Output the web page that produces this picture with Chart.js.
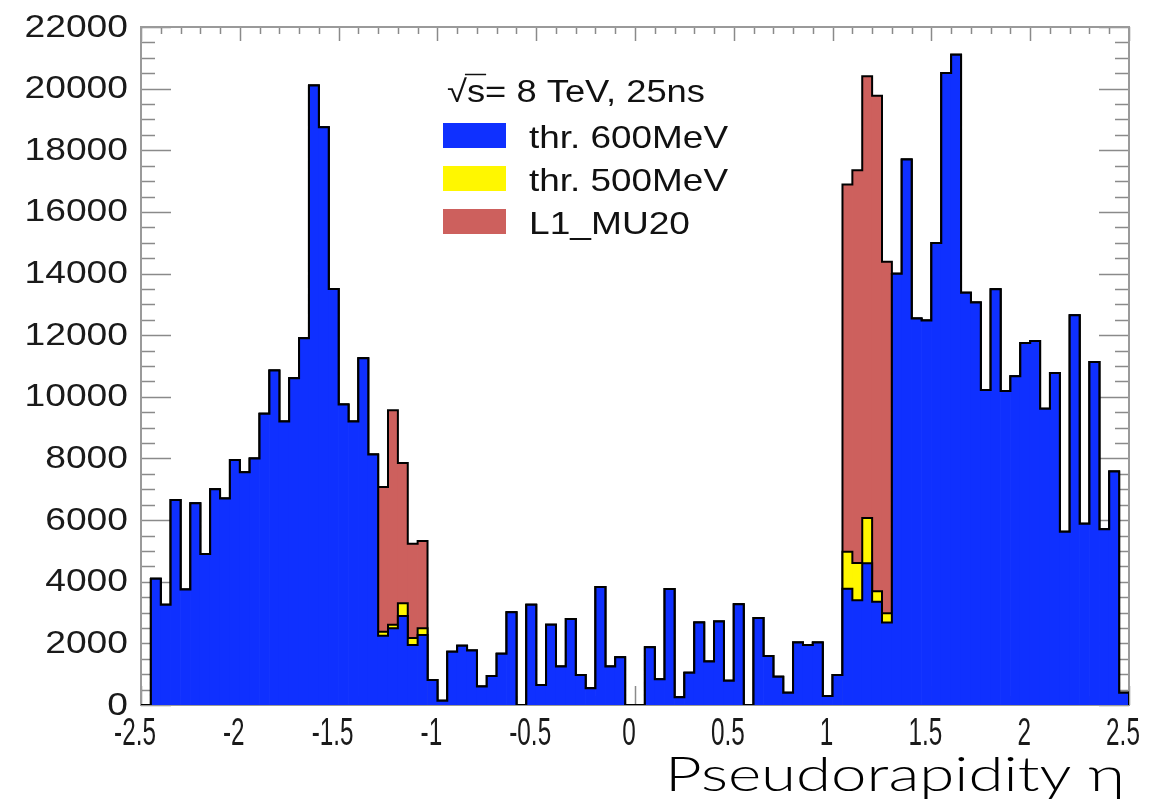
<!DOCTYPE html>
<html>
<head>
<meta charset="utf-8">
<script src="https://cdn.jsdelivr.net/npm/chart.js@4.4.1/dist/chart.umd.min.js"></script>
<style>
html,body{margin:0;padding:0;background:#ffffff;}
#wrap{width:1157px;height:811px;position:relative;}
</style>
</head>
<body>
<div id="wrap"><canvas id="c" width="1157" height="811"></canvas></div>
<script>
// ---- Histogram binning (eta axis) ----
const etaLow = -2.5;
const etaHigh = 2.5;

// ---- thr. 600MeV : counts per bin (100 bins of 0.05 in eta) ----
const thr600 = [
  0, 4100, 3250, 6650, 3750, 6550, 4900, 7000, 6700, 7950,
  7550, 8000, 9450, 10850, 9200, 10600, 11900, 20100, 18750, 13500,
  9750, 9200, 11250, 8125, 2250, 2490, 2890, 1950, 2275, 810,
  140, 1730, 1920, 1770, 600, 940, 1660, 3010, 0, 3250,
  650, 2600, 1250, 2790, 975, 540, 3830, 1250, 1550, 0,
  0, 1875, 835, 3760, 250, 1050, 2675, 1410, 2710, 790,
  3270, 0, 2820, 1590, 920, 400, 2025, 1950, 2025, 290,
  975, 3770, 3400, 4600, 3350, 2680, 13990, 17700, 12540, 12480,
  14990, 20510, 21100, 13380, 13060, 10220, 13490, 10190, 10670, 11750,
  11810, 9610, 10770, 5620, 12650, 5880, 11130, 5700, 7580, 400
];

// ---- bins where thr. 500MeV and L1_MU20 differ from thr. 600MeV ----
const transitionBins = [24, 25, 26, 27, 28, 71, 72, 73, 74, 75];
const thr500Vals = [2380, 2600, 3300, 2170, 2490, 4970, 4610, 6070, 3690, 2980];
const l1mu20Vals = [7075, 9565, 7855, 5230, 5320, 16890, 17350, 20400, 19770, 14380];

// ---- axis ticks ----
const yTickStep = 2000;
const yMax = 22000;
const xTickStep = 0.5;

const legendTitle = '\u221As= 8 TeV, 25ns';
const seriesLabels = ['thr. 600MeV', 'thr. 500MeV', 'L1_MU20'];
const seriesColors = ['#0f30ff', '#fff700', '#cd605d'];
const xTitle = 'Pseudorapidity \u03B7';

// ---- build datasets from the arrays ----
const nBins = thr600.length;
const binW = (etaHigh - etaLow) / nBins;

function fullSeries(vals) {
  const arr = thr600.slice();
  transitionBins.forEach((b, k) => { arr[b] = vals[k]; });
  return arr;
}
const thr500 = fullSeries(thr500Vals);
const l1mu20 = fullSeries(l1mu20Vals);

function barPoints(arr, onlyBins) {
  const pts = [];
  arr.forEach((v, i) => {
    if (onlyBins && onlyBins.indexOf(i) < 0) return;
    pts.push({x: etaLow + (i + 0.5) * binW, y: v});
  });
  return pts;
}
function outlinePoints(arr) {
  const pts = [];
  arr.forEach((v, i) => {
    pts.push({x: etaLow + i * binW, y: v});
    pts.push({x: etaLow + (i + 1) * binW, y: v});
  });
  pts.push({x: etaHigh, y: 0});
  return pts;
}

const barCommon = {type: 'bar', grouped: false, barPercentage: 1, categoryPercentage: 1, borderWidth: 0};
const lineCommon = {type: 'line', borderColor: '#000000', borderWidth: 2, pointRadius: 0, fill: false, tension: 0, borderJoinStyle: 'miter'};

const datasets = [
  Object.assign({}, lineCommon, {label: 'outline600', data: outlinePoints(thr600), order: 1}),
  Object.assign({}, barCommon, {label: seriesLabels[0], data: barPoints(thr600), backgroundColor: seriesColors[0], order: 2}),
  Object.assign({}, lineCommon, {label: 'outline500', data: outlinePoints(thr500), order: 3}),
  Object.assign({}, barCommon, {label: seriesLabels[1], data: barPoints(thr500, transitionBins), backgroundColor: seriesColors[1], order: 4}),
  Object.assign({}, lineCommon, {label: 'outlineMU20', data: outlinePoints(l1mu20), order: 5}),
  Object.assign({}, barCommon, {label: seriesLabels[2], data: barPoints(l1mu20, transitionBins), backgroundColor: seriesColors[2], order: 6})
];

// ---- helper: horizontally stretched text ----
function stretchedText(ctx, text, x, y, font, targetWidth, fixedScale) {
  ctx.save();
  ctx.font = font;
  const w = ctx.measureText(text).width;
  const sx = fixedScale ? fixedScale : (targetWidth ? targetWidth / w : 1);
  ctx.translate(x, y);
  ctx.scale(sx, 1);
  ctx.fillText(text, 0, 0);
  ctx.restore();
  return sx;
}
function fmt(v) { return String(Math.round(v * 100) / 100); }

// ---- frame with inward ticks (drawn under the histograms, as ROOT does) ----
const frameTicks = {
  id: 'frameTicks',
  beforeDatasetsDraw(chart) {
    const {ctx, chartArea: {left, right, top, bottom}, scales: {x, y}} = chart;
    ctx.save();
    ctx.strokeStyle = '#8a8a8a';
    ctx.lineWidth = 1.5;
    ctx.beginPath();
    for (let v = 0; v <= yMax; v += yTickStep / 4) {
      const py = Math.round(y.getPixelForValue(v)) + 0.5;
      const major = v % yTickStep === 0;
      const L = major ? 30 : 14;
      ctx.moveTo(left, py); ctx.lineTo(left + L, py);
      ctx.moveTo(right, py); ctx.lineTo(right - L, py);
    }
    for (let k = -25; k <= 25; k++) {
      const px = Math.round(x.getPixelForValue(k / 10)) + 0.5;
      const major = k % 5 === 0;
      ctx.moveTo(px, top); ctx.lineTo(px, top + (major ? 14 : 7));
      ctx.moveTo(px, bottom); ctx.lineTo(px, bottom - (major ? 19 : 9));
    }
    ctx.stroke();
    ctx.strokeStyle = '#9a9a9a';
    ctx.lineWidth = 2;
    ctx.strokeRect(left, top, right - left, bottom - top);
    ctx.restore();
  },
  afterDraw(chart) {
    // tick labels from the library's own tick lists (ROOT-like condensed / wide glyphs)
    const {ctx, chartArea: {left, bottom}, scales: {x, y}} = chart;
    ctx.save();
    ctx.fillStyle = '#1a1a1a';
    ctx.textAlign = 'right';
    ctx.textBaseline = 'middle';
    y.ticks.forEach(t => {
      stretchedText(ctx, fmt(t.value), left - 13, y.getPixelForValue(t.value) + 1,
        '31px "Liberation Sans", Arial, sans-serif', 0, 1.2);
    });
    ctx.textAlign = 'center';
    ctx.textBaseline = 'alphabetic';
    x.ticks.forEach(t => {
      stretchedText(ctx, fmt(t.value), x.getPixelForValue(t.value) - 6, bottom + 40,
        '38px "Liberation Sans", Arial, sans-serif', 0, 0.64);
    });
    ctx.restore();
  }
};

// ---- legend inside the frame + x-axis title ----
const legendAndTitle = {
  id: 'legendAndTitle',
  afterDatasetsDraw(chart) {
    const ctx = chart.ctx;
    ctx.save();
    ctx.fillStyle = '#111111';
    ctx.textBaseline = 'alphabetic';
    ctx.textAlign = 'left';
    const hFont = '31px "Liberation Sans", Arial, sans-serif';
    const sx = stretchedText(ctx, legendTitle, 447, 102, hFont, 258);
    // overline of the square root
    ctx.font = hFont;
    const wRad = ctx.measureText('\u221A').width * sx;
    const wRadS = ctx.measureText('\u221As').width * sx;
    ctx.strokeStyle = '#111111';
    ctx.lineWidth = 1.5;
    ctx.beginPath();
    ctx.moveTo(447 + wRad - 2, 74.5);
    ctx.lineTo(447 + wRadS + 1, 74.5);
    ctx.stroke();

    const boxX = 443, boxW = 63, boxH = 25;
    const rowsY = [123, 166, 209];
    const textW = [199, 199, 161];
    const iFont = '32px "Liberation Sans", Arial, sans-serif';
    for (let i = 0; i < 3; i++) {
      ctx.fillStyle = seriesColors[i];
      ctx.fillRect(boxX, rowsY[i], boxW, boxH);
      ctx.fillStyle = '#111111';
      stretchedText(ctx, seriesLabels[i], 529, rowsY[i] + 25, iFont, textW[i]);
    }
    ctx.restore();
  },
  afterDraw(chart) {
    const ctx = chart.ctx;
    ctx.save();
    ctx.fillStyle = '#000000';
    ctx.textBaseline = 'alphabetic';
    stretchedText(ctx, xTitle, 665, 791, '300 47px Lato, "Open Sans", sans-serif', 460);
    ctx.restore();
  }
};

new Chart(document.getElementById('c'), {
  type: 'bar',
  data: {datasets: datasets},
  plugins: [frameTicks, legendAndTitle],
  options: {
    responsive: false,
    animation: false,
    devicePixelRatio: 1,
    layout: {padding: {left: 0, top: 27, right: 28, bottom: 0}},
    plugins: {legend: {display: false}, tooltip: {enabled: false}, title: {display: false}},
    scales: {
      x: {
        type: 'linear',
        min: etaLow,
        max: etaHigh,
        offset: false,
        grid: {display: false, drawTicks: false},
        border: {display: false},
        ticks: {stepSize: xTickStep, display: false, autoSkip: false},
        afterFit(axis) { axis.height = 106; }
      },
      y: {
        type: 'linear',
        min: 0,
        max: yMax,
        grid: {display: false, drawTicks: false},
        border: {display: false},
        ticks: {stepSize: yTickStep, display: false},
        afterFit(axis) { axis.width = 141; }
      }
    }
  }
});
</script>
</body>
</html>
